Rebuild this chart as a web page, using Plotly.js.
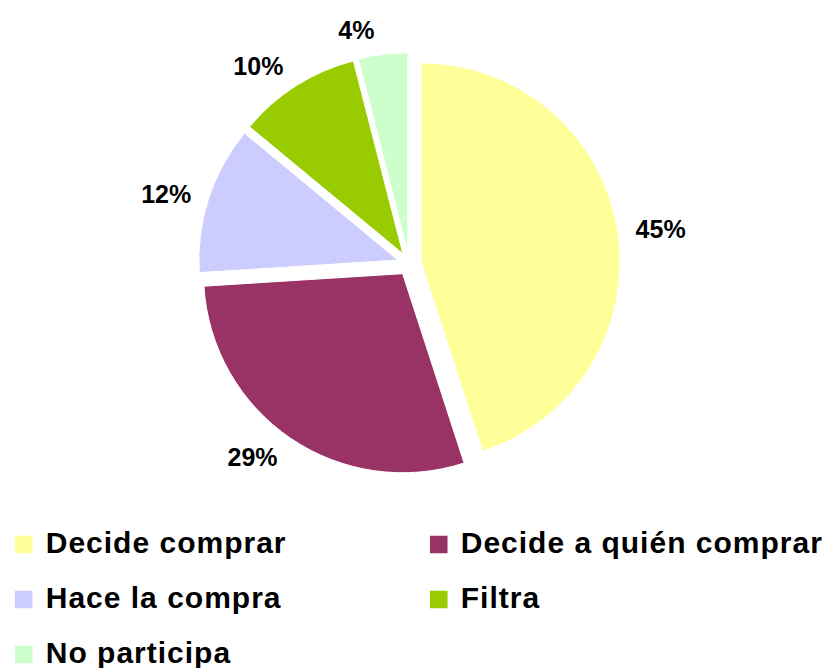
<!DOCTYPE html>
<html>
<head>
<meta charset="utf-8">
<script src="https://cdn.plot.ly/plotly-3.0.1.min.js"></script>
<style>
    body { margin: 0; background: #fff; }
    #chart { width: 830px; height: 668px; }
    /* legend: bigger squares, text smaller than the row spacing font */
    .legend .legendpie { transform: translate(20px, 0px) scale(1.6); }
    .legend .traces text.legendtext {
        font-size: 30px !important;
        letter-spacing: 1px;
        transform: translate(2px, -7px);
    }
</style>
</head>
<body>
<div id="chart"></div>
<script>
// shares of participation in the purchase (%)
const categories = ['Decide comprar', 'Decide a quién comprar', 'Hace la compra', 'Filtra', 'No participa'];
const shares = [45, 29, 12, 10, 4];
const sliceColors = ['#FFFF99', '#993366', '#CCCCFF', '#99CC00', '#CCFFCC'];

let pieTrace = {
    type: 'pie',
    labels: categories,
    values: shares,
    sort: false,
    direction: 'clockwise',
    rotation: 0,
    pull: 0.06,
    marker: { colors: sliceColors, line: { color: '#fff', width: 1 } },
    textinfo: 'none',
    domain: { x: [0.2389, 0.7474], y: [0.2892, 0.9210] },
    hoverinfo: 'label+percent'
};

// same pie, invisible and a bit wider, only to carry the percent labels further out
let labelTrace = {
    type: 'pie',
    labels: categories,
    values: shares,
    sort: false,
    direction: 'clockwise',
    rotation: 0,
    showlegend: false,
    marker: { colors: categories.map(() => 'rgba(0,0,0,0)'), line: { width: 0 } },
    texttemplate: '%{value}%',
    textposition: 'outside',
    textfont: { family: 'Arial, Liberation Sans', size: 25, color: '#000', weight: 'bold' },
    domain: { x: [0.2257, 0.7606], y: [0.2727, 0.9374] },
    hoverinfo: 'skip'
};

let layout = {
    width: 830,
    height: 668,
    margin: { l: 0, r: 0, t: 0, b: 0, autoexpand: false },
    paper_bgcolor: '#fff',
    showlegend: true,
    legend: {
        orientation: 'h',
        x: 0.0045,
        xanchor: 'left',
        y: 0.2335,
        yanchor: 'top',
        entrywidth: 370,
        entrywidthmode: 'pixels',
        font: { family: 'Arial, Liberation Sans', size: 40, color: '#000', weight: 'bold' }
    }
};

let config = { displayModeBar: false, staticPlot: true };

Plotly.newPlot('chart', [pieTrace, labelTrace], layout, config);
</script>
</body>
</html>
